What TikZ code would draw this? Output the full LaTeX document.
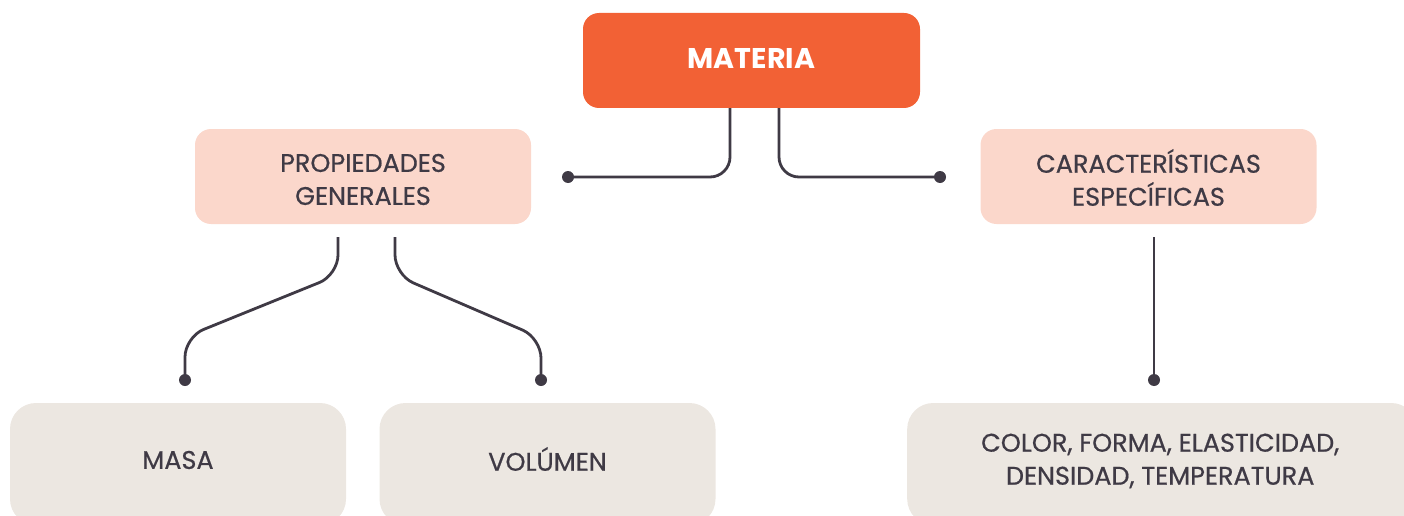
\documentclass[tikz,border=0pt]{standalone}
\usepackage{fontspec}
\setmainfont{Poppins}
\newfontfamily\medfont{Poppins}[FakeBold=0.6]
\definecolor{ink}{HTML}{3F3A45}
\definecolor{orangebox}{HTML}{F26135}
\definecolor{pinkbox}{HTML}{FBD7CB}
\definecolor{greybox}{HTML}{ECE7E1}
\begin{document}
\begin{tikzpicture}[x=1pt,y=-1pt,
  topbox/.style={fill=orangebox, rounded corners=16pt, minimum width=337pt, minimum height=95pt, inner sep=0pt},
  midbox/.style={fill=pinkbox, rounded corners=16pt, minimum width=336pt, minimum height=95pt, inner sep=0pt},
  lowbox/.style={fill=greybox, rounded corners=26pt, minimum width=336pt, minimum height=122pt, inner sep=0pt},
  toptext/.style={text=white, font=\fontsize{28.5}{33}\selectfont\bfseries, inner sep=0pt},
  boxtext/.style={text=ink, font=\medfont\fontsize{25.5}{33}\selectfont, align=center, inner sep=0pt},
  conn/.style={draw=ink, line width=2.8pt, rounded corners=20pt},
  dot/.style={circle, fill=ink, inner sep=0pt, minimum size=12pt}]
\clip (0,0) rectangle (1404,516);
\node[topbox] (mat) at (751.5,60.5) {};
\node[midbox] (prop) at (363,176.5) {};
\node[midbox] (car) at (1148.5,176.5) {};
\node[lowbox] (masa) at (178,464) {};
\node[lowbox] (vol) at (547.5,464) {};
\node[lowbox, minimum width=510pt, anchor=west] (col) at (907,464) {};
\node[toptext] (matt) at ([yshift=2pt]mat.center) {MATERIA};
\node[boxtext] (propt) at ([yshift=-3pt]prop.center) {PROPIEDADES\\GENERALES};
\node[boxtext] (cart) at ([yshift=-1pt]car.center) {CARACTERÍSTICAS\\ESPECÍFICAS};
\node[boxtext] (masat) at ([yshift=4pt]masa.center) {MASA};
\node[boxtext] (volt) at ([yshift=5pt]vol.center) {VOLÚMEN};
\node[boxtext] (colt) at ([xshift=-2pt,yshift=3pt]col.center) {COLOR, FORMA, ELASTICIDAD,\\DENSIDAD, TEMPERATURA};
\node[dot] (d1) at (568,177) {};
\node[dot] (d2) at (940,177) {};
\node[dot] (d3) at (185,380) {};
\node[dot] (d4) at (541,380) {};
\node[dot] (d5) at (1154,380) {};
\coordinate (p1) at (338,237);
\coordinate (p2) at (395,237);
\coordinate (c1) at (1154,237);
\draw[conn] (mat.south -| 730,0) -- (730,177) -- (d1.center);
\draw[conn] (mat.south -| 779,0) -- (779,177) -- (d2.center);
\draw[conn] (p1) -- (338,275) -- (185,337) -- (d3.center);
\draw[conn] (p2) -- (395,275) -- (541,338) -- (d4.center);
\draw[conn] (c1) -- (d5.center);
\end{tikzpicture}
\end{document}
